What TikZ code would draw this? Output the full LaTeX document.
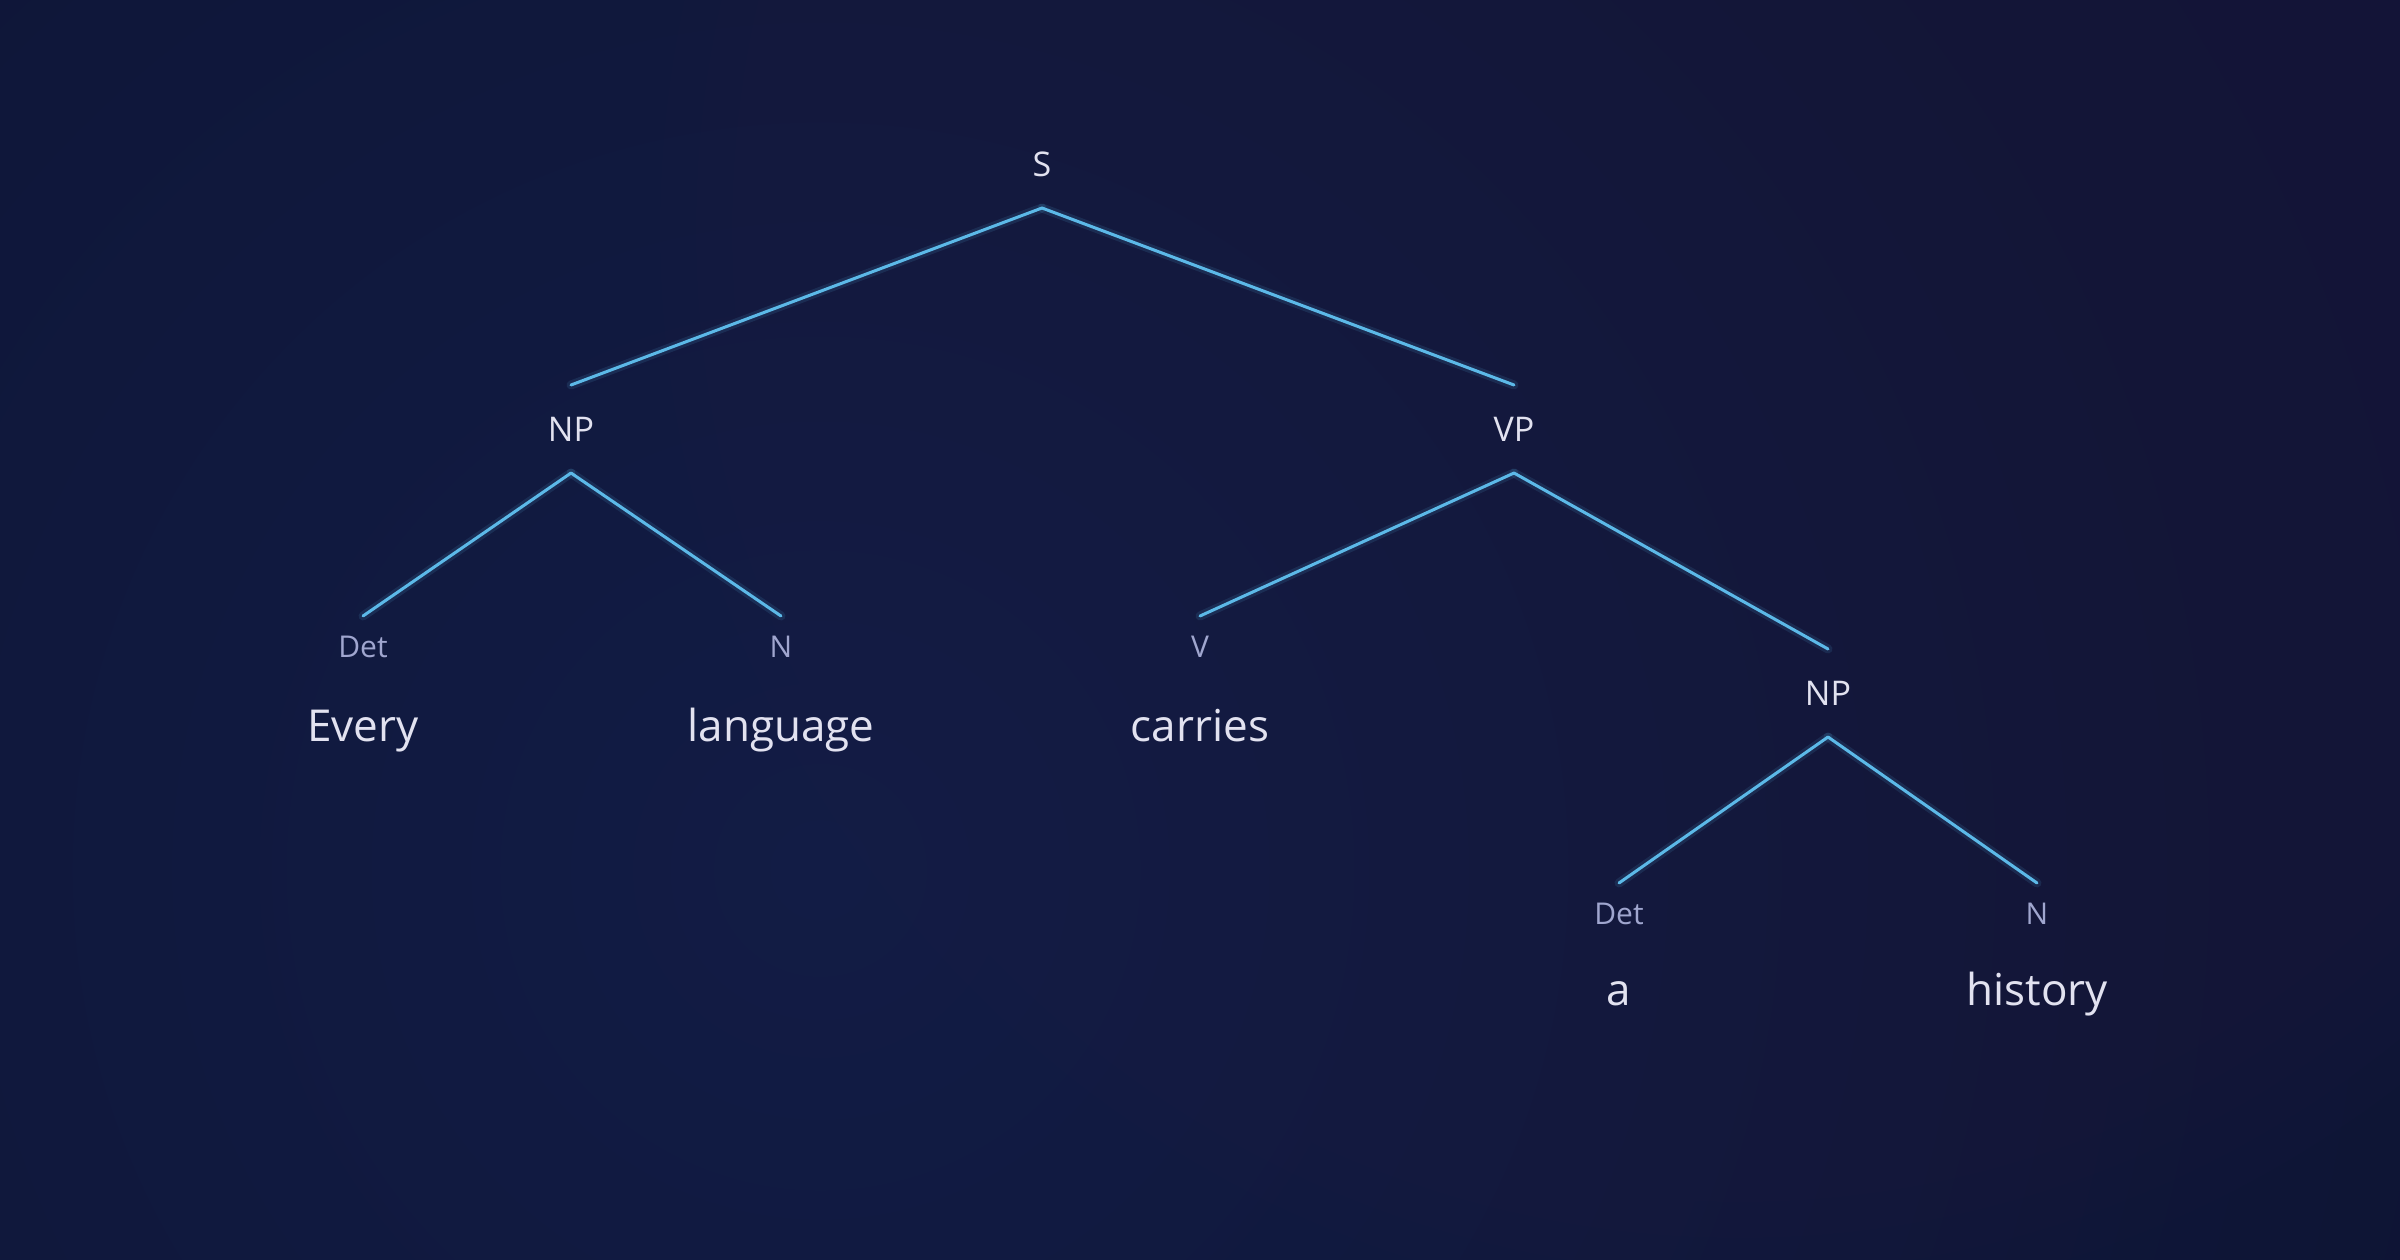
\documentclass[tikz,border=0pt]{standalone}
\usepackage{fontspec}
\setmainfont{Open Sans}
\definecolor{bgbase}{HTML}{0A0D22}
\definecolor{bgmid}{HTML}{0E1536}
\definecolor{bgblue}{HTML}{121C45}
\definecolor{bgpurple}{HTML}{2A1E4E}
\definecolor{edgeblue}{HTML}{5CB9E8}
\definecolor{wordcol}{HTML}{E2E2F0}
\definecolor{labcol}{HTML}{A0A6CF}
\pgfdeclareradialshading{bgglow}{\pgfpoint{0bp}{0bp}}{color(0bp)=(bgblue); color(17bp)=(bgmid); color(38bp)=(bgbase); color(50bp)=(bgbase)}
\tikzset{
  phrase/.style={inner sep=0pt, outer sep=0pt, minimum height=88pt, text height=24.3pt, text depth=0pt, text=wordcol, font=\fontsize{34}{40}\selectfont},
  cat/.style={inner sep=0pt, outer sep=0pt, minimum height=62pt, text height=21.4pt, text depth=0pt, text=labcol, font=\fontsize{30}{36}\selectfont},
  word/.style={inner sep=0pt, outer sep=0pt, text height=31.4pt, text depth=0pt, text=wordcol, font=\fontsize{44}{52}\selectfont},
  edge/.style={draw=edgeblue, line width=3pt, line cap=round},
  edgeglow/.style={draw=edgeblue, line width=9pt, opacity=0.12, line cap=round},
  glowlayer/.style={fill=#1, draw=none}
}
\begin{document}
\begin{tikzpicture}[x=1pt, y=-1pt]
\useasboundingbox (0,0) rectangle (2400,1260);
% background
\fill[bgbase] (0,0) rectangle (2400,1260);
\begin{scope}
\clip (0,0) rectangle (2400,1260);
\shade[shading=bgglow] (820,870) circle (2200);
\foreach \i in {1,...,30}{
  \fill[glowlayer=bgpurple, fill opacity=0.045] (1740,230) circle ({36*\i});
}
\end{scope}
% nodes
\node[phrase] (S) at (1042,164) {S};
\node[phrase] (NPa) at (571,429) {NP};
\node[phrase] (VP) at (1514,429) {VP};
\node[cat] (DetA) at (363,647) {Det};
\node[cat] (NA) at (781,647) {N};
\node[cat] (V) at (1200,647) {V};
\node[phrase] (NPb) at (1828,693) {NP};
\node[cat] (DetB) at (1619,914) {Det};
\node[cat] (NB) at (2037,914) {N};
\node[word] (wEvery) at (363,726) {Every};
\node[word] (wLanguage) at (781,726) {language};
\node[word] (wCarries) at (1200,726) {carries};
\node[word] (wA) at (1619,990) {a};
\node[word] (wHistory) at (2037,990) {history};
% edges
\foreach \p/\c in {S/NPa, S/VP, NPa/DetA, NPa/NA, VP/V, VP/NPb, NPb/DetB, NPb/NB}{
  \draw[edgeglow] (\p.south) -- (\c.north);
  \draw[edge] (\p.south) -- (\c.north);
}
\end{tikzpicture}
\end{document}
